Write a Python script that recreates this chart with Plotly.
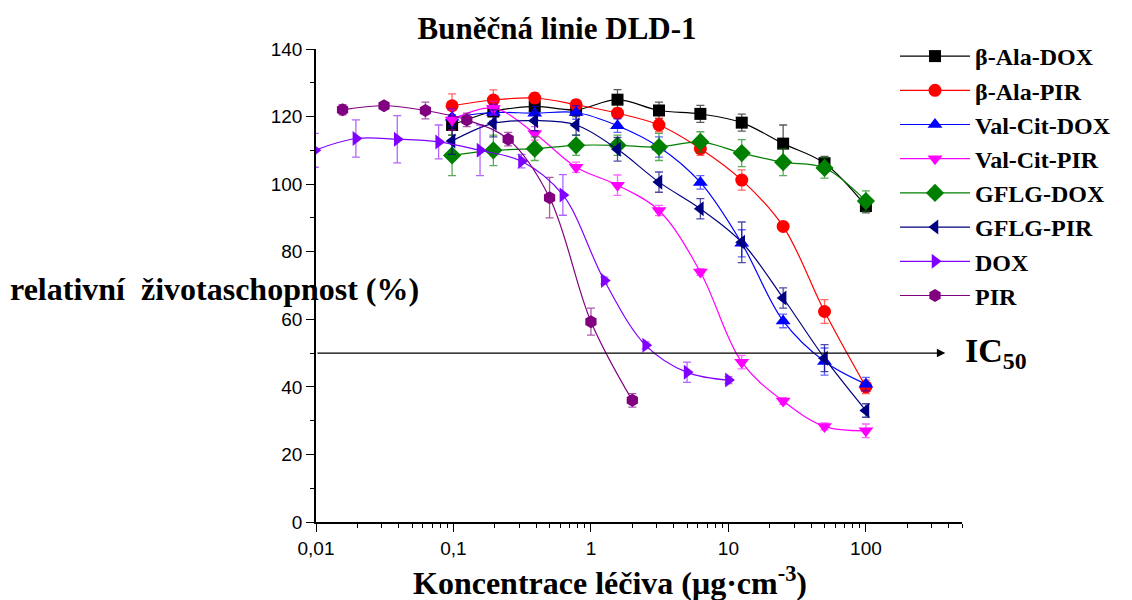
import math
import plotly.graph_objects as go

# ---------------- data ----------------
conj_x = [0.0977, 0.195, 0.39, 0.78, 1.56, 3.125, 6.25, 12.5, 25, 50, 100]
dox_x = [0.0098, 0.0195, 0.039, 0.078, 0.156, 0.3125, 0.625, 1.25, 2.5, 5, 10]
pir_x = [0.0156, 0.03125, 0.0625, 0.125, 0.25, 0.5, 1, 2]

ala_dox_y = [117.5, 121.5, 123.0, 122.0, 125.0, 121.8, 120.8, 118.2, 112.0, 106.2, 93.5]
ala_dox_e = [3, 3, 2, 2, 3, 2.5, 2.5, 2.5, 5.5, 2, 2]

ala_pir_y = [123.2, 124.9, 125.5, 123.5, 121.0, 117.5, 110.5, 101.2, 87.5, 62.3, 40.0]
ala_pir_e = [3.5, 3, 1.5, 1.5, 1.5, 2, 2, 3, 1, 3.5, 2]

vc_dox_y = [119.8, 121.2, 121.0, 121.2, 117.3, 111.0, 100.5, 82.5, 59.5, 47.5, 40.8]
vc_dox_e = [2.5, 2.5, 2, 2, 2, 3, 2, 4, 2, 4, 2]

vc_pir_y = [119.0, 122.5, 115.0, 105.0, 99.7, 92.2, 74.0, 47.3, 35.8, 28.3, 27.0]
vc_pir_e = [3, 2, 2, 1.5, 3, 1.5, 1, 2, 1, 1, 2]

gflg_dox_y = [108.5, 110.0, 110.5, 111.5, 111.5, 111.0, 112.5, 109.2, 106.5, 104.8, 95.0]
gflg_dox_e = [6, 4.5, 3.5, 3, 3, 4, 3, 4, 4, 3, 3]

gflg_pir_y = [112.8, 118.0, 118.8, 117.5, 110.3, 100.6, 92.7, 82.8, 66.3, 48.5, 33.0]
gflg_pir_e = [4, 4, 3, 3, 3.5, 3, 3, 6, 3, 4, 2]

dox_y = [110.0, 113.5, 113.3, 112.5, 110.0, 106.8, 96.8, 71.5, 52.3, 44.3, 42.0]
dox_e = [5, 5.5, 7, 5, 7.5, 2, 6, 1, 1, 3, 1]

pir_y = [122.0, 123.2, 121.8, 119.0, 113.3, 96.0, 59.3, 36.0]
pir_e = [1.5, 1, 2.5, 2, 2, 6, 4, 2]

series_names = ["β-Ala-DOX", "β-Ala-PIR", "Val-Cit-DOX", "Val-Cit-PIR",
                "GFLG-DOX", "GFLG-PIR", "DOX", "PIR"]
series_x = [conj_x, conj_x, conj_x, conj_x, conj_x, conj_x, dox_x, pir_x]
series_y = [ala_dox_y, ala_pir_y, vc_dox_y, vc_pir_y, gflg_dox_y, gflg_pir_y, dox_y, pir_y]
series_e = [ala_dox_e, ala_pir_e, vc_dox_e, vc_pir_e, gflg_dox_e, gflg_pir_e, dox_e, pir_e]

x_tickvals = [0.01, 0.1, 1, 10, 100]
x_ticktext = ["0,01", "0,1", "1", "10", "100"]
ic50_level = 50
ic50_arrow_end = 378

# ---------------- styles ----------------
colors = ["#000000", "#FF0000", "#0000FF", "#FF00FF", "#008000", "#000080", "#8000FF", "#800080"]
err_colors = ["rgba(0,0,0,0.65)", "rgba(255,0,0,0.6)", "rgba(0,0,255,0.6)", "rgba(255,0,255,0.6)",
              "rgba(0,128,0,0.65)", "rgba(0,0,128,0.7)", "rgba(128,0,255,0.6)", "rgba(128,0,128,0.65)"]
symbols = ["square", "circle", "triangle-up", "triangle-down", "diamond",
           "triangle-left", "triangle-right", "hexagon"]
sizes = [12, 13, 13, 13, 14, 13, 13, 13]

serif = "Liberation Serif, Times New Roman, serif"
sans = "Liberation Sans, Arial, sans-serif"

L, R, T, B = 316, 170, 49, 78
W, H = 1132, 600
pw, ph = W - L - R, H - T - B


def px_x(p):
    return (p - L) / pw


def px_y(p):
    return (H - B - p) / ph


fig = go.Figure()
for i, name in enumerate(series_names):
    fig.add_trace(go.Scatter(
        x=series_x[i], y=series_y[i], name=name, mode="lines+markers",
        line=dict(color=colors[i], width=1.2, shape="spline", smoothing=1.0),
        marker=dict(symbol=symbols[i], size=sizes[i], color=colors[i], line=dict(width=0)),
        error_y=dict(type="data", array=series_e[i], visible=True,
                     color=err_colors[i], thickness=1.3, width=4),
        legendgroup=name,
    ))

# minor tick positions on the log axis
minor_x = []
for dec in [0.01, 0.1, 1, 10, 100]:
    for m in range(2, 10):
        minor_x.append(dec * m)

fig.update_layout(
    width=W, height=H,
    margin=dict(l=L, r=R, t=T, b=B, autoexpand=False),
    plot_bgcolor="white", paper_bgcolor="white",
    showlegend=True,
    legend=dict(xref="container", yref="container",
                x=895 / W, xanchor="left", y=1 - 34 / H, yanchor="top",
                font=dict(family=serif, size=24, color="black", weight="bold"),
                itemwidth=70, tracegroupgap=0, bgcolor="rgba(0,0,0,0)",
                itemsizing="trace"),
    title=dict(text="<b>Buněčná linie DLD-1</b>", xref="container", yref="container",
               x=557 / W, xanchor="center", y=1 - 28 / H, yanchor="middle",
               font=dict(family=serif, size=31, color="black")),
    xaxis=dict(type="log", range=[-2, math.log10(500)],
               tickvals=x_tickvals, ticktext=x_ticktext,
               ticks="outside", ticklen=8, tickwidth=1.3, tickcolor="black",
               showline=True, linecolor="black", linewidth=1.5,
               showgrid=False, zeroline=False,
               tickfont=dict(family=sans, size=19, color="black"),
               minor=dict(tickvals=minor_x, ticks="outside", ticklen=4,
                          tickwidth=1.2, tickcolor="black", showgrid=False)),
    yaxis=dict(range=[0, 140], dtick=20, tick0=0,
               ticks="outside", ticklen=8, tickwidth=1.3, tickcolor="black",
               showline=True, linecolor="black", linewidth=1.5,
               showgrid=False, zeroline=False,
               tickfont=dict(family=sans, size=19, color="black"),
               minor=dict(dtick=10, ticks="outside", ticklen=4,
                          tickwidth=1.2, tickcolor="black", showgrid=False)),
)

# IC50 arrow
fig.add_annotation(x=math.log10(ic50_arrow_end), y=ic50_level, xref="x", yref="y",
                   ax=math.log10(x_tickvals[0]), ay=ic50_level, axref="x", ayref="y",
                   text="", showarrow=True, arrowhead=2, arrowsize=1.4,
                   arrowwidth=1.2, arrowcolor="black")
fig.add_annotation(x=px_x(963), y=ic50_level, xref="paper", yref="y",
                   text="<b>IC<sub>50</sub></b>",
                   showarrow=False, xanchor="left", yanchor="middle",
                   font=dict(family=serif, size=34, color="black"))

# axis titles
fig.add_annotation(x=px_x(8), y=px_y(289), xref="paper", yref="paper",
                   text="<b>relativní\u00a0 životaschopnost (%)</b>", showarrow=False,
                   xanchor="left", yanchor="middle",
                   font=dict(family=serif, size=32, color="black"))
fig.add_annotation(x=px_x(610), y=px_y(603), xref="paper", yref="paper",
                   text="<b>Koncentrace léčiva (μg·cm<sup>-3</sup>)</b>", showarrow=False,
                   xanchor="center", yanchor="bottom",
                   font=dict(family=serif, size=32, color="black"))

fig.write_html("out.html", config={"displayModeBar": False},
               post_script="document.body.style.margin='0px';")
